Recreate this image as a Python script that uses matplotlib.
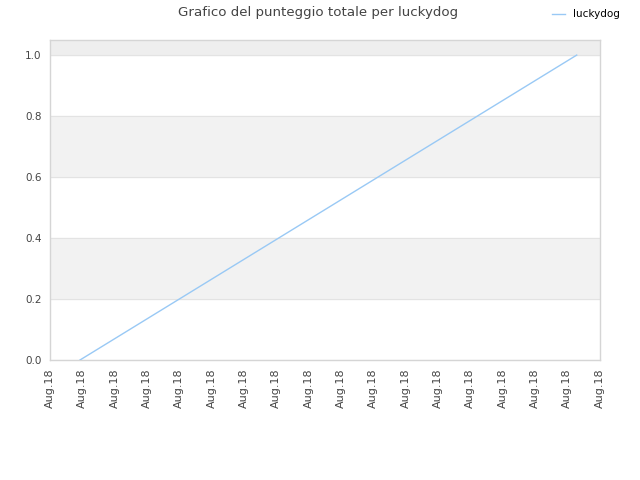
import matplotlib.pyplot as plt
import numpy as np

# Dati
tick_labels = ["Aug.18"] * 18
x_punti = [0.93, 16.29]
punteggio = [0.0, 1.0]
y_ticks = [0.0, 0.2, 0.4, 0.6, 0.8, 1.0]

fig = plt.figure(figsize=(6.4, 4.8), dpi=100)
ax = fig.add_axes([0.078, 0.25, 0.859, 0.667])

# Bande alternate di sfondo
ax.axhspan(0.2, 0.4, color="#f2f2f2", zorder=0)
ax.axhspan(0.6, 0.8, color="#f2f2f2", zorder=0)
ax.axhspan(1.0, 1.05, color="#eeeeee", zorder=0)
for y in y_ticks:
    ax.axhline(y, color="#e3e3e3", linewidth=0.8, zorder=1)

ax.plot(x_punti, punteggio, color="#99c9f5", linewidth=1, label="luckydog", zorder=3)

ax.set_xlim(0, len(tick_labels) - 1)
ax.set_ylim(0, 1.05)
ax.set_xticks(np.arange(len(tick_labels)))
ax.set_xticklabels(tick_labels, rotation=90, fontsize=8, color="#444444")
ax.set_yticks(y_ticks)
ax.set_yticklabels([f"{v:.1f}" for v in y_ticks], fontsize=7.5, color="#444444")
ax.tick_params(length=0, pad=6)

for s in ax.spines.values():
    s.set_color("#d5d5d5")
    s.set_linewidth(1)

fig.text(0.497, 0.988, "Grafico del punteggio totale per luckydog",
         ha="center", va="top", fontsize=9.6, color="#444444")
fig.legend(loc="upper right", bbox_to_anchor=(0.983, 1.0), frameon=False,
           fontsize=7.5, handlelength=1.2, handletextpad=0.8)

fig.savefig("out.png", dpi=100)
